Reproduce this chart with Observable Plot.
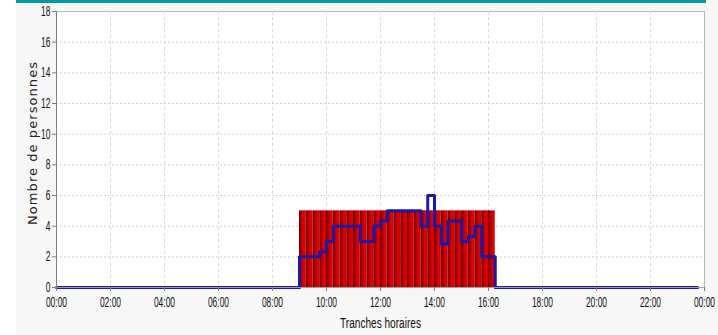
<!DOCTYPE html>
<html>
<head>
<meta charset="utf-8">
<script src="https://cdn.jsdelivr.net/npm/d3@7"></script>
<script src="https://cdn.jsdelivr.net/npm/@observablehq/plot@0.6"></script>
<style>
  html, body { margin: 0; padding: 0; background: #ffffff; }
  #wrap { position: relative; width: 718px; height: 335px; overflow: hidden;
          background: linear-gradient(to right, #ffffff 0, #ffffff 16px, #f7f7f7 16px); }
  #teal { position: absolute; left: 16px; top: 0; width: 690px; height: 3px; background: #009c96; }
  #chart { position: absolute; left: 0; top: 0; }
  #chart svg { font-family: "Liberation Sans", Arial, sans-serif; }
</style>
</head>
<body>
<div id="wrap"><div id="teal"></div><div id="chart"></div></div>
<script>
// Occupancy bars (capacity), one per quarter hour
const barTimes = ["09:00","09:15","09:30","09:45","10:00","10:15","10:30","10:45",
  "11:00","11:15","11:30","11:45","12:00","12:15","12:30","12:45",
  "13:00","13:15","13:30","13:45","14:00","14:15","14:30","14:45",
  "15:00","15:15","15:30","15:45","16:00"];
const barValues = [5,5,5,5,5,5,5,5, 5,5,5,5,5,5,5,5, 5,5,5,5,5,5,5,5, 5,5,5,5,5];

// Step line (number of persons), change points
const lineTimes = ["00:00","09:00","09:45","10:00","10:15","11:15","11:45","12:00","12:15",
  "13:30","13:45","14:00","14:15","14:30","15:00","15:15","15:30","15:45","16:15","23:45"];
const lineValues = [0,2,2.33,3,4,3,4,4.33,5, 4,6,4,2.83,4.33,3,3.33,4,2,0,0];

const xTicks = [0,2,4,6,8,10,12,14,16,18,20,22,24];
const xTickLabels = ["00:00","02:00","04:00","06:00","08:00","10:00","12:00","14:00","16:00","18:00","20:00","22:00","00:00"];
const yTicks = [0,2,4,6,8,10,12,14,16,18];

const toH = s => { const [h, m] = s.split(":").map(Number); return h + m / 60; };
const bars = barTimes.map((t, i) => ({x1: toH(t), x2: toH(t) + 0.25, y: barValues[i]}));
const line = lineTimes.map((t, i) => ({x: toH(t), y: lineValues[i]}));

const chart = Plot.plot({
  width: 718,
  height: 335,
  marginLeft: 56,
  marginRight: 14,
  marginTop: 11,
  marginBottom: 48,
  style: {background: "transparent", fontSize: "12px", color: "#222"},
  x: {domain: [0, 24]},
  y: {domain: [0, 18]},
  marks: [
    Plot.frame({fill: "white", stroke: "#b8b8b8"}),
    Plot.gridX(xTicks.slice(1, -1), {stroke: "#d8d8d8", strokeOpacity: 1, strokeDasharray: "3,3"}),
    Plot.gridY(yTicks.slice(1, -1), {stroke: "#cfcfcf", strokeOpacity: 1, strokeDasharray: "2,2"}),
    Plot.rectY(bars, {x1: "x1", x2: "x2", y1: 0, y2: "y", fill: "url(#barGrad)", inset: 0}),
    Plot.line(line, {x: "x", y: "y", curve: "step-after", stroke: "#1a1aa8", strokeWidth: 3}),
    Plot.ruleX([0], {stroke: "#808080"}),
    Plot.ruleY([0], {stroke: "#a0a0a0"}),
    Plot.axisX(xTicks, {tickFormat: (d, i) => xTickLabels[i], tickSize: 4, tickPadding: 6,
      stroke: "#808080", fill: "#111", fontSize: 14, label: "Tranches horaires", labelAnchor: "center",
      labelOffset: 40, labelArrow: "none"}),
    Plot.axisY(yTicks, {tickSize: 4, tickPadding: 2, stroke: "#808080", fill: "#111", fontSize: 14,
      label: null}),
    Plot.text(["Nombre de personnes"], {frameAnchor: "left", dx: -24, dy: -6, rotate: -90,
      fontSize: 13, fill: "#222", textAnchor: "middle",
      fontFamily: "'DejaVu Sans', Verdana, sans-serif"})
  ]
});

document.getElementById("chart").appendChild(chart);

const svg = d3.select(chart);
const defs = svg.insert("defs", ":first-child");
const g = defs.append("linearGradient").attr("id", "barGrad")
  .attr("x1", "0").attr("y1", "0").attr("x2", "1").attr("y2", "0");
g.append("stop").attr("offset", "0%").attr("stop-color", "#6a0000");
g.append("stop").attr("offset", "15%").attr("stop-color", "#8a0000");
g.append("stop").attr("offset", "70%").attr("stop-color", "#e40000");
g.append("stop").attr("offset", "100%").attr("stop-color", "#d00000");

// Narrow (condensed) labels like the original: squeeze horizontally
const narrowLen = s => [...s].reduce((a, c) => a + (c === ":" ? 2.4 : 4.7), 0);
function squeeze(sel, lenFn) {
  sel.each(function() {
    const natural = this.getComputedTextLength();
    if (!natural) return;
    const k = lenFn(this.textContent) / natural;
    const tr = this.getAttribute("transform") || "";
    this.setAttribute("transform", tr + ` scale(${k},1)`);
  });
}
squeeze(svg.selectAll('g[aria-label="x-axis tick label"] text, g[aria-label="y-axis tick label"] text'), narrowLen);
svg.selectAll('g[aria-label="x-axis label"] text').style("font-size", "15px");
squeeze(svg.selectAll('g[aria-label="x-axis label"] text'), () => 81);
svg.selectAll('g[aria-label="text"] text')
  .attr("textLength", 163).attr("lengthAdjust", "spacing");
</script>
</body>
</html>
